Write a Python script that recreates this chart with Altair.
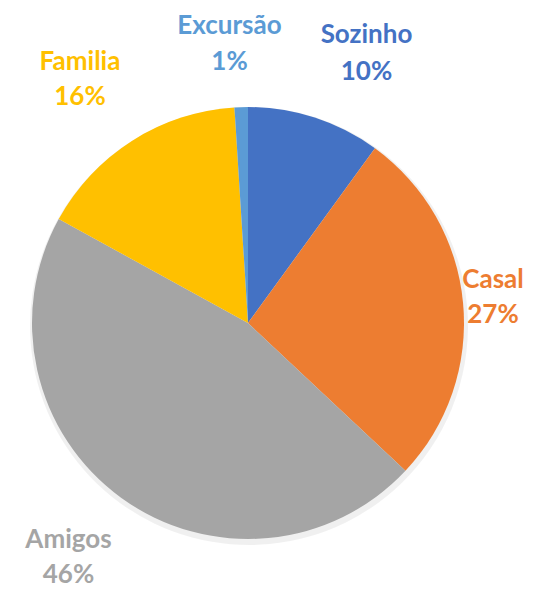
import altair as alt
import pandas as pd

categories = ["Sozinho", "Casal", "Amigos", "Familia", "Excursão"]
values = [10, 27, 46, 16, 1]
colors = ["#4472C4", "#ED7D31", "#A5A5A5", "#FFC000", "#5B9BD5"]

df = pd.DataFrame({
    "cat": categories,
    "val": values,
    "idx": list(range(len(categories))),
})

W, H = 517, 579
CX, CY, R = 240, 315, 216

color_scale = alt.Scale(domain=categories, range=colors)

base = alt.Chart(df)

shadow = base.mark_arc(radius=R + 3, color="#000000", opacity=0.06).encode(
    theta=alt.Theta("val:Q", stack=True),
    order=alt.Order("idx:Q"),
    x=alt.value(CX + 1), y=alt.value(CY + 3),
)

pie = base.mark_arc(radius=R).encode(
    theta=alt.Theta("val:Q", stack=True),
    order=alt.Order("idx:Q"),
    color=alt.Color("cat:N", scale=color_scale, legend=None),
    x=alt.value(CX), y=alt.value(CY),
)

# label anchor: (x centre, first-line baseline, line height)
label_pos = {
    "Excursão": (221.5, 26, 36),
    "Sozinho": (358.5, 35, 37),
    "Familia": (72, 62, 35),
    "Casal": (485, 280, 35),
    "Amigos": (60.5, 540, 35),
}

layers = [shadow, pie]
for cat, color in zip(categories, colors):
    px, py, lh = label_pos[cat]
    layers.append(
        base.transform_filter(alt.datum.cat == cat)
        .transform_calculate(lbl="datum.cat + '\\n' + datum.val + '%'")
        .mark_text(
            x=px, y=py, align="center", baseline="alphabetic",
            font="Lato", fontWeight="bold", fontSize=26,
            lineBreak="\n", lineHeight=lh, color=color,
        )
        .encode(text="lbl:N")
    )

chart = alt.layer(*layers).properties(
    width=W, height=H,
    autosize=alt.AutoSizeParams(type="none"),
    padding=0,
).configure_view(stroke=None)

chart.save("out.html", embed_options={"renderer": "svg", "actions": False})
